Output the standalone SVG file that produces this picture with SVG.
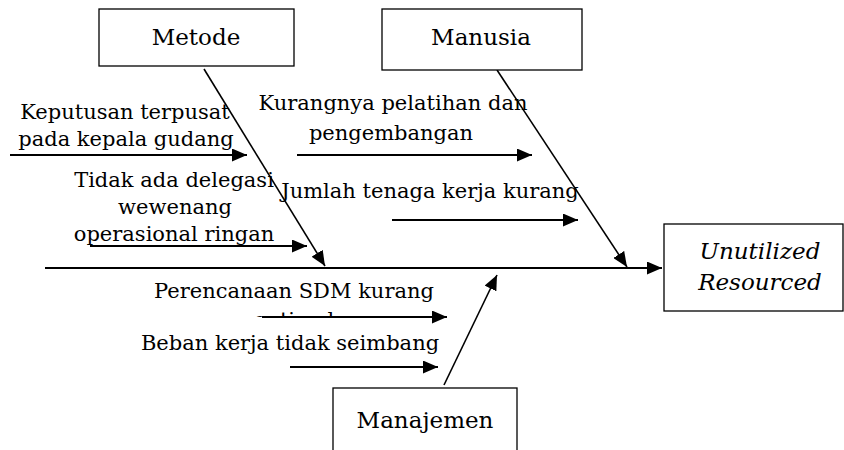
<svg xmlns="http://www.w3.org/2000/svg" width="844" height="450" viewBox="0 0 844 450">
<defs>
<style>
.box{fill:#fff;stroke:#000;stroke-width:1.3}
.t{font-family:"DejaVu Serif","Liberation Serif",serif;font-size:21px;fill:#000;text-anchor:middle}
.bt{font-size:23px}
.it{font-style:italic}
.ln{stroke:#000;stroke-width:2;fill:none}
.bone{stroke:#000;stroke-width:1.6;fill:none}
</style>
<marker id="ah" markerUnits="userSpaceOnUse" markerWidth="16" markerHeight="13" refX="15" refY="6.5" orient="auto">
<path d="M0,0 L15,6.5 L0,13 Z" fill="#000"/>
</marker>
<clipPath id="clipOpt"><rect x="200" y="300" width="200" height="17"/></clipPath>
</defs>
<rect width="844" height="450" fill="#fff"/>
<g id="connectors">
<line class="ln" x1="45" y1="268" x2="662" y2="268" marker-end="url(#ah)"/>
<line class="bone" x1="204" y1="69" x2="325" y2="266" marker-end="url(#ah)"/>
<line class="bone" x1="497" y1="70" x2="627" y2="267" marker-end="url(#ah)"/>
<line class="bone" x1="444" y1="385" x2="497" y2="275" marker-end="url(#ah)"/>
<line class="ln" x1="10" y1="155" x2="247" y2="155" marker-end="url(#ah)"/>
<line class="ln" x1="297" y1="155" x2="532" y2="155" marker-end="url(#ah)"/>
<line class="ln" x1="90" y1="246" x2="307" y2="246" marker-end="url(#ah)"/>
<line class="ln" x1="392" y1="220" x2="578" y2="220" marker-end="url(#ah)"/>
<line class="ln" x1="262" y1="317" x2="447" y2="317" marker-end="url(#ah)"/>
<line class="ln" x1="290" y1="367" x2="438" y2="367" marker-end="url(#ah)"/>
</g>
<g id="metode">
<rect class="box" x="99" y="9" width="195" height="57"/>
<text class="t bt" x="196" y="45">Metode</text>
</g>
<g id="manusia">
<rect class="box" x="382" y="9" width="200" height="61"/>
<text class="t bt" x="481" y="45">Manusia</text>
</g>
<g id="manajemen">
<rect class="box" x="333" y="388" width="184" height="80"/>
<text class="t bt" x="425" y="428">Manajemen</text>
</g>
<g id="effect">
<rect class="box" x="664" y="224" width="179" height="87"/>
<text class="t bt it" x="760" y="259">Unutilized</text>
<text class="t bt it" x="760" y="290">Resourced</text>
</g>
<g id="cause-labels">
<text class="t" x="125" y="119">Keputusan terpusat</text>
<text class="t" x="126" y="146">pada kepala gudang</text>
<text class="t" x="393" y="110">Kurangnya pelatihan dan</text>
<text class="t" x="391" y="140">pengembangan</text>
<text class="t" x="174" y="187">Tidak ada delegasi</text>
<text class="t" x="175" y="214">wewenang</text>
<text class="t" x="174" y="241">operasional ringan</text>
<text class="t" x="430" y="198">Jumlah tenaga kerja kurang</text>
<text class="t" x="294" y="298">Perencanaan SDM kurang</text>
<text class="t" x="294" y="327" clip-path="url(#clipOpt)">optimal</text>
<text class="t" x="290" y="350">Beban kerja tidak seimbang</text>
</g>
</svg>
